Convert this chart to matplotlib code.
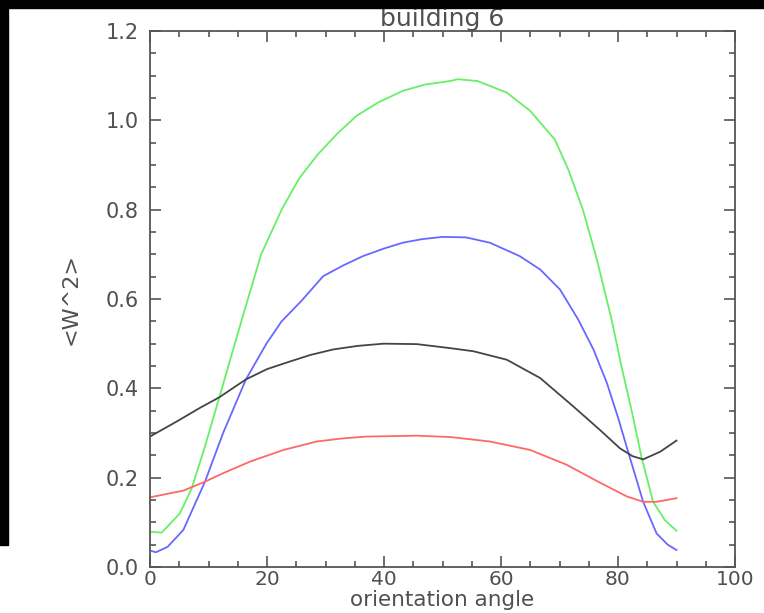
import matplotlib
matplotlib.use("Agg")
import matplotlib.pyplot as plt
from matplotlib.patches import Rectangle
from matplotlib.ticker import MultipleLocator

# values
green_x = [0, 2, 5.1, 7.1, 9.4, 11.85, 15.7, 19, 22.5, 25.5, 28.7, 32, 35.3, 39,
           43.2, 47, 51.3, 52.6, 56, 61, 65, 69.2, 71.5, 74, 76.4, 78.9, 80.6,
           82.5, 84, 86, 88, 90]
green_y = [0.079, 0.077, 0.12, 0.175, 0.27, 0.38, 0.554, 0.70, 0.80, 0.87, 0.924,
           0.97, 1.01, 1.04, 1.066, 1.08, 1.088, 1.092, 1.088, 1.062, 1.021, 0.957,
           0.89, 0.80, 0.688, 0.554, 0.449, 0.34, 0.247, 0.146, 0.105, 0.081]

blue_x = [0, 1, 3, 5.7, 9.4, 12.5, 16.4, 19.9, 22.5, 25.9, 29.6, 33, 36.4, 40,
          43.2, 46.5, 50, 54, 58.1, 63.2, 66.7, 70.1, 73.2, 75.8, 78.1, 80, 81.8,
          84.3, 86.6, 88.5, 90]
blue_y = [0.037, 0.033, 0.045, 0.083, 0.191, 0.30, 0.42, 0.50, 0.55, 0.596, 0.651,
          0.675, 0.696, 0.713, 0.726, 0.734, 0.739, 0.738, 0.726, 0.696, 0.666,
          0.621, 0.554, 0.487, 0.412, 0.335, 0.255, 0.146, 0.075, 0.05, 0.038]

black_x = [0, 4.6, 8.5, 11.85, 16.4, 20, 23.9, 27.5, 31.3, 35.5, 39.9, 45.6, 51.3,
           55.3, 61, 66.7, 72.4, 76.9, 80.3, 82.5, 84.3, 87.2, 90]
black_y = [0.292, 0.326, 0.356, 0.38, 0.42, 0.443, 0.46, 0.475, 0.487, 0.495, 0.50,
           0.499, 0.49, 0.483, 0.464, 0.423, 0.359, 0.307, 0.266, 0.248, 0.241,
           0.258, 0.283]

red_x = [0, 5.7, 9.4, 12.5, 17.1, 22.8, 28.5, 33, 37, 45.6, 51.3, 58.1, 65, 71.2,
         76.9, 81.5, 84.3, 86.6, 90]
red_y = [0.156, 0.171, 0.191, 0.21, 0.236, 0.262, 0.281, 0.288, 0.292, 0.294, 0.291,
         0.281, 0.262, 0.229, 0.189, 0.158, 0.146, 0.146, 0.154]

txt_color = "#505050"
plt.rcParams['font.family'] = ['DejaVu Sans']

fig = plt.figure(figsize=(7.64, 6.13), dpi=100)
ax = fig.add_axes([150 / 764, 46 / 613, 585 / 764, 536 / 613])

ax.plot(green_x, green_y, color="#66f066", lw=1.3)
ax.plot(blue_x, blue_y, color="#6868ff", lw=1.3)
ax.plot(black_x, black_y, color="#454545", lw=1.3)
ax.plot(red_x, red_y, color="#ff6868", lw=1.3)

ax.set_xlim(0, 100)
ax.set_ylim(0, 1.2)
ax.xaxis.set_major_locator(MultipleLocator(20))
ax.xaxis.set_minor_locator(MultipleLocator(5))
ax.yaxis.set_major_locator(MultipleLocator(0.2))
ax.yaxis.set_minor_locator(MultipleLocator(0.05))
ax.yaxis.set_major_formatter(lambda v, p: f"{v:.1f}")

ax.tick_params(which="both", direction="in", top=True, right=True,
               color="#555555", labelcolor=txt_color, labelsize=15, width=1.2)
ax.tick_params(which="major", length=8)
ax.tick_params(which="minor", length=4)
ax.tick_params(axis="x", which="major", pad=2, labelsize=14.5)
ax.tick_params(axis="y", which="major", pad=8)
for s in ax.spines.values():
    s.set_color("#555555")
    s.set_linewidth(1.3)

ax.set_title("building 6", fontsize=18, color=txt_color, pad=1)
ax.set_xlabel("orientation angle", fontsize=15.5, color=txt_color)
# put the x label just under the tick labels, as in the reference
ax.xaxis.set_label_coords(0.5, -23 / 536)
ax.set_ylabel("<W^2>", fontsize=16, color=txt_color, labelpad=18)

# black frame strips at top and left of the screenshot
fig.patches.append(Rectangle((0, 1 - 8 / 613), 1, 8 / 613, transform=fig.transFigure,
                             color="black", zorder=10))
fig.patches.append(Rectangle((0, 68 / 613), 8 / 764, 545 / 613, transform=fig.transFigure,
                             color="black", zorder=10))

fig.savefig("out.png", dpi=100)
